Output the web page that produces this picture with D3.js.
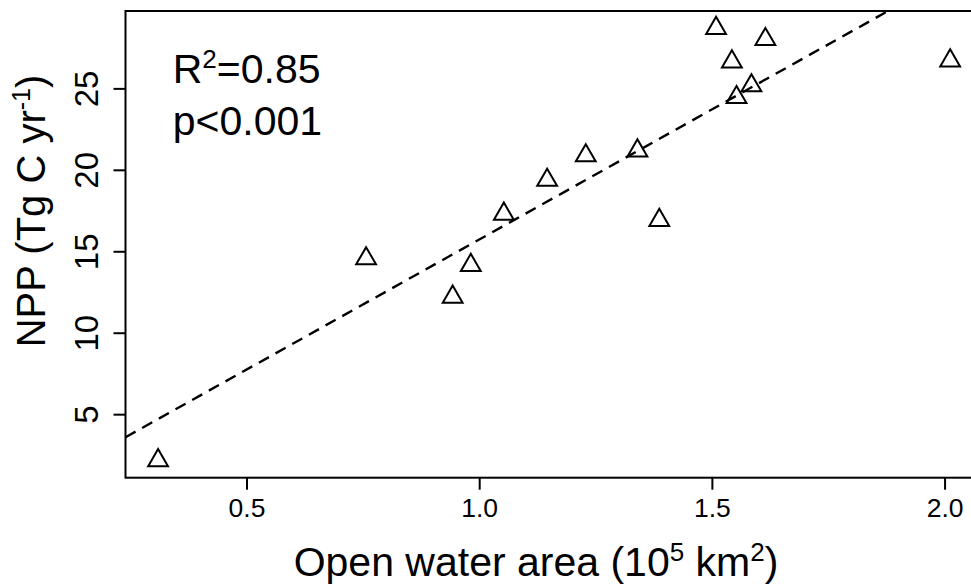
<!DOCTYPE html>
<html>
<head>
<meta charset="utf-8">
<script src="https://cdn.jsdelivr.net/npm/d3@7"></script>
<style>
  html, body { margin: 0; padding: 0; background: #fff; }
  svg { display: block; }
  text { font-family: "Liberation Sans", Arial, Helvetica, sans-serif; fill: #000; }
</style>
</head>
<body>
<svg id="chart" width="971" height="584"></svg>
<script>
// Data
const openWaterArea = [0.310, 0.757, 0.943, 0.982, 1.053, 1.146, 1.229, 1.340, 1.387, 1.509, 1.543, 1.553, 1.585, 1.615, 2.012];
const npp           = [2.16, 14.55, 12.19, 14.14, 17.29, 19.37, 20.87, 21.17, 16.91, 28.69, 26.64, 24.45, 25.17, 28.01, 26.70];
const xTicks = [0.5, 1.0, 1.5, 2.0];
const yTicks = [5, 10, 15, 20, 25];
const fitIntercept = -0.25;
const fitSlope = 15.97;
const statLines = ["R²=0.85", "p<0.001"];

const svg = d3.select("#chart");
const pLeft = 125.5, pRight = 981.8, pTop = 11, pBottom = 477.7;

const x = d3.scaleLinear().domain([0.24, 2.08]).range([pLeft, pRight]);
const y = d3.scaleLinear().domain([1.10, 29.75]).range([pBottom, pTop]);

svg.append("defs").append("clipPath").attr("id", "plotclip")
  .append("rect").attr("x", pLeft).attr("y", pTop).attr("width", pRight - pLeft).attr("height", pBottom - pTop);

// regression line
const xd = x.domain();
svg.append("line")
  .attr("clip-path", "url(#plotclip)")
  .attr("x1", x(xd[0])).attr("y1", y(fitIntercept + fitSlope * xd[0]))
  .attr("x2", x(xd[1])).attr("y2", y(fitIntercept + fitSlope * xd[1]))
  .attr("stroke", "#000").attr("stroke-width", 2.4)
  .attr("stroke-dasharray", "11.5,7.6");

// points
const tri = d3.symbol().type(d3.symbolTriangle).size(170);
svg.append("g").selectAll("path")
  .data(openWaterArea.map((v, i) => [v, npp[i]]))
  .join("path")
  .attr("d", tri)
  .attr("transform", d => `translate(${x(d[0])},${y(d[1])})`)
  .attr("fill", "none").attr("stroke", "#000").attr("stroke-width", 2);

// box
svg.append("rect")
  .attr("x", pLeft).attr("y", pTop).attr("width", pRight - pLeft).attr("height", pBottom - pTop)
  .attr("fill", "none").attr("stroke", "#000").attr("stroke-width", 2);

// x axis
const gx = svg.append("g").attr("transform", `translate(0,${pBottom})`)
  .call(d3.axisBottom(x).tickValues(xTicks).tickFormat(d3.format(".1f")).tickSize(12));
gx.select(".domain").remove();
gx.selectAll(".tick line").attr("stroke", "#000").attr("stroke-width", 2);
gx.selectAll(".tick text").attr("y", 39.6).attr("dy", 0)
  .style("font-size", "26.5px").style("font-family", "'Liberation Sans', Arial, sans-serif").attr("fill", "#000");

// y axis
const gy = svg.append("g").attr("transform", `translate(${pLeft},0)`)
  .call(d3.axisLeft(y).tickValues(yTicks).tickSize(12));
gy.select(".domain").remove();
gy.selectAll(".tick line").attr("stroke", "#000").attr("stroke-width", 2);
gy.selectAll(".tick text")
  .attr("transform", "rotate(-90)")
  .attr("x", 0).attr("y", -27.5).attr("dy", 0)
  .attr("text-anchor", "middle")
  .style("font-size", "33px").style("font-family", "'Liberation Sans', Arial, sans-serif").attr("fill", "#000");

// x title
const xt = svg.append("text").attr("x", 536).attr("y", 576)
  .attr("text-anchor", "middle").style("font-size", "41px");
xt.append("tspan").text("Open water area (10");
xt.append("tspan").text("5").style("font-size", "26px").attr("dy", "-15");
xt.append("tspan").text(" km").attr("dy", "15");
xt.append("tspan").text("2").style("font-size", "26px").attr("dy", "-15");
xt.append("tspan").text(")").attr("dy", "15");

// y title
const yt = svg.append("text").attr("transform", "translate(45,211) rotate(-90)")
  .attr("text-anchor", "middle").style("font-size", "40px");
yt.append("tspan").text("NPP (Tg C yr");
yt.append("tspan").text("-1").style("font-size", "25px").attr("dy", "-15");
yt.append("tspan").text(")").attr("dy", "15");

// stats
const st = svg.append("text").attr("x", 172.7).attr("y", 83.3).style("font-size", "41px");
st.append("tspan").text("R");
st.append("tspan").text("2").style("font-size", "26px").attr("dy", "-15");
st.append("tspan").text("=0.85").attr("dy", "15");
svg.append("text").attr("x", 172.7).attr("y", 135).style("font-size", "41px").text(statLines[1]);
</script>
</body>
</html>
